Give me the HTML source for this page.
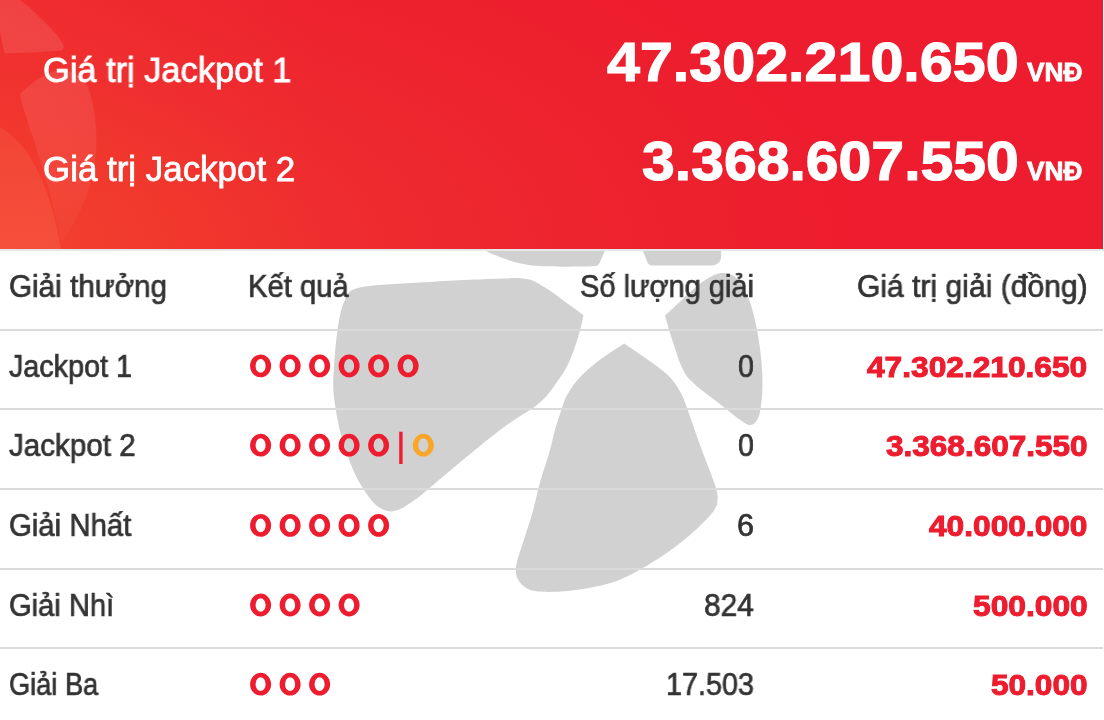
<!DOCTYPE html>
<html lang="vi">
<head>
<meta charset="utf-8">
<title>Vietlott Power 6/55 - Giá trị Jackpot</title>
<style>
html,body{margin:0;padding:0;}
body{width:1104px;height:720px;overflow:hidden;background:#fff;position:relative;font-family:"Liberation Sans",sans-serif;}
#wm{position:absolute;left:0;top:0;width:1104px;height:720px;}
#hdr{position:absolute;left:0;top:0;width:1103px;height:249px;background:#ed1c2e;overflow:hidden;}
#hdr svg{position:absolute;left:0;top:0;}
#hdrline{position:absolute;left:0;top:249px;width:1104px;height:2px;background:#e4e8e8;}
.ln{position:absolute;left:0;width:1103px;height:2px;background:#dbdbdb;}
.t{position:absolute;white-space:nowrap;transform-origin:0 0;will-change:transform;}
#rings{position:absolute;left:0;top:0;width:1104px;height:720px;}
</style>
</head>
<body>
<svg id="wm" viewBox="0 0 1104 720">
<g fill="#d1d1d1">
<path d="M360.0,287.5C372.5,284.6 397.5,283.9 420.0,282.5C442.5,281.1 477.5,279.4 495.0,278.8C512.5,278.2 516.7,277.4 525.0,278.8C533.3,280.2 535.2,281.4 545.0,287.5C554.8,293.6 570.7,306.0 583.5,315.2C582.5,319.8 581.6,324.2 580.4,329.0C579.1,333.8 577.9,338.2 576.0,343.8C574.1,349.4 571.6,356.8 568.8,362.7C566.0,368.6 563.8,372.4 559.0,379.0C554.2,385.6 549.8,394.0 540.0,402.5C530.2,411.0 515.8,417.9 500.0,430.0C484.2,442.1 458.3,464.0 445.0,475.0C431.7,486.0 426.2,491.1 420.0,496.0C413.8,500.9 411.5,502.2 408.0,504.5C404.5,506.8 402.2,508.4 399.0,509.5C395.8,510.6 392.7,511.9 389.0,511.3C385.3,510.7 380.7,508.9 377.0,506.0C373.3,503.1 370.2,498.9 366.7,494.0C363.2,489.1 359.4,483.0 356.2,476.6C353.0,470.2 350.2,463.0 347.6,455.8C345.0,448.6 342.5,440.4 340.6,433.2C338.7,426.0 337.4,418.8 336.3,412.4C335.2,406.0 334.3,401.2 333.8,395.0C333.3,388.8 332.9,385.8 333.5,375.0C334.1,364.2 335.6,342.5 337.5,330.0C339.4,317.5 341.2,307.1 345.0,300.0C348.8,292.9 347.5,290.4 360.0,287.5Z"/>
<path d="M624.2,343.4C630.0,347.4 635.4,351.0 641.7,355.4C648.0,359.8 656.6,365.6 662.0,370.0C667.4,374.4 670.6,377.8 673.8,381.7C677.0,385.6 679.0,389.4 681.0,393.3C683.0,397.2 682.8,396.4 686.0,405.0C689.2,413.6 695.2,431.7 700.0,445.0C704.8,458.3 712.1,475.8 715.0,485.0C717.9,494.2 717.9,495.4 717.5,500.0C717.1,504.6 717.1,506.7 712.5,512.5C707.9,518.3 698.8,527.5 690.0,535.0C681.2,542.5 670.3,550.7 660.0,557.5C649.7,564.3 637.5,571.4 628.0,576.0C618.5,580.6 613.1,582.5 603.0,585.0C592.9,587.5 578.8,590.0 567.5,591.0C556.2,592.0 542.9,592.4 535.0,591.0C527.1,589.6 523.2,586.4 520.0,582.5C516.8,578.6 515.4,574.6 516.0,567.5C516.6,560.4 521.0,549.2 523.8,540.0C526.5,530.8 529.8,522.1 532.5,512.5C535.2,502.9 537.1,492.9 540.0,482.5C542.9,472.1 547.5,458.8 550.0,450.0C552.5,441.2 552.8,437.5 555.0,430.0C557.2,422.5 561.0,410.9 563.0,405.0C565.0,399.1 565.1,398.7 567.3,394.8C569.5,390.9 572.4,386.1 576.0,381.7C579.6,377.3 584.4,372.6 589.0,368.5C593.6,364.4 597.9,361.1 603.8,356.9C609.7,352.7 617.4,347.9 624.2,343.4Z"/>
<path d="M665.0,315.4C670.3,310.6 674.8,306.4 680.8,301.0C686.8,295.6 694.6,287.6 701.0,283.0C707.4,278.4 713.4,274.5 719.0,273.5C724.6,272.5 730.0,273.1 734.8,276.8C739.6,280.6 744.2,288.5 747.6,296.0C751.0,303.5 753.1,312.4 755.3,321.8C757.4,331.2 759.3,342.3 760.5,352.6C761.7,362.9 762.5,374.0 762.5,383.4C762.5,392.8 761.5,402.8 760.5,409.0C759.5,415.2 758.4,418.0 756.6,420.7C754.9,423.4 752.6,425.0 750.0,425.0C747.4,425.0 744.7,422.9 741.0,420.5C737.3,418.1 732.5,414.0 728.0,410.5C723.5,407.0 718.3,402.8 714.0,399.5C709.7,396.2 705.5,393.3 702.0,390.5C698.5,387.7 695.7,385.1 693.0,382.5C690.3,379.9 688.2,378.2 686.0,375.0C683.8,371.8 681.8,367.2 680.0,363.0C678.2,358.8 677.2,355.0 675.5,350.0C673.8,345.0 671.8,338.8 670.0,333.0C668.2,327.2 666.7,321.3 665.0,315.4Z"/>
<path d="M470,235L485,250.5C500,258 515,263 532,265.5C545,267 580,266.8 594,266.3C597,266.2 598.6,265 599.6,263L606,248L610,235Z"/>
<path d="M638,235L642.5,250L647.3,262C648.3,264.5 650,265.6 653,265.6L710,265.6C717,265.6 721.2,262 721.2,256L721.2,235Z"/>
</g>
</svg>
<div id="hdr">
<svg width="1103" height="249" viewBox="0 0 1103 249">
<defs>
<radialGradient id="gbg" gradientUnits="userSpaceOnUse" cx="0" cy="249" r="1" gradientTransform="translate(0 249) scale(980 430) translate(0 -249)">
<stop offset="0" stop-color="#f13c2e"/><stop offset="0.2" stop-color="#f0342d"/><stop offset="0.4" stop-color="#ee2a2f"/><stop offset="0.65" stop-color="#ed222e"/><stop offset="0.9" stop-color="#ed1c2e"/><stop offset="1" stop-color="#ed1c2e"/>
</radialGradient>
<linearGradient id="gw" gradientUnits="userSpaceOnUse" x1="0" y1="0" x2="320" y2="0"><stop offset="0" stop-color="#ff6a30" stop-opacity="0.13"/><stop offset="1" stop-color="#ff6a30" stop-opacity="0"/></linearGradient>
<linearGradient id="g2" gradientUnits="userSpaceOnUse" x1="0" y1="70" x2="0" y2="249"><stop offset="0" stop-color="#fff" stop-opacity="0.10"/><stop offset="0.45" stop-color="#fff" stop-opacity="0.07"/><stop offset="1" stop-color="#fff" stop-opacity="0.02"/></linearGradient>
<linearGradient id="g3" gradientUnits="userSpaceOnUse" x1="0" y1="127" x2="0" y2="249"><stop offset="0" stop-color="#f2483a"/><stop offset="1" stop-color="#f5553f"/></linearGradient>
</defs>
<rect width="1103" height="249" fill="url(#gbg)"/>
<rect width="320" height="249" fill="url(#gw)"/>
<path d="M0,0L20,0C30,7 45,22 56,34C60,39 63,43 64,47L62,50.5C45,52 20,53 4.5,53.5L0,32Z" fill="#fff" fill-opacity="0.10"/>
<path d="M20,94C30,84 42,75 55,71C68,69 80,74 86,83C92,95 96,115 96.5,138C96.5,170 88,200 72,226C67,235 62,243 58,250L62,250C58,225 50,190 40,160C34,140 26,117 22,104Z" fill="url(#g2)"/>
<path d="M0,127C8,132 16,139 22,146C32,158 40,175 46,190C53,210 58,232 61,250L0,250Z" fill="url(#g3)" fill-opacity="0.75"/>
</svg>
</div>
<div id="hdrline"></div>
<div class="ln" style="top:329px"></div><div class="ln" style="top:408px"></div><div class="ln" style="top:488px"></div><div class="ln" style="top:568px"></div><div class="ln" style="top:647px"></div>
<svg id="rings" viewBox="0 0 1104 720">
<path fill="#ed1c2e" fill-rule="evenodd" d="M250.10,365.90a10.5,11.4 0 1,0 21,0a10.5,11.4 0 1,0 -21,0ZM255.55,365.90a5.05,6.85 0 1,1 10.1,0a5.05,6.85 0 1,1 -10.1,0Z"/>
<path fill="#ed1c2e" fill-rule="evenodd" d="M279.60,365.90a10.5,11.4 0 1,0 21,0a10.5,11.4 0 1,0 -21,0ZM285.05,365.90a5.05,6.85 0 1,1 10.1,0a5.05,6.85 0 1,1 -10.1,0Z"/>
<path fill="#ed1c2e" fill-rule="evenodd" d="M309.10,365.90a10.5,11.4 0 1,0 21,0a10.5,11.4 0 1,0 -21,0ZM314.55,365.90a5.05,6.85 0 1,1 10.1,0a5.05,6.85 0 1,1 -10.1,0Z"/>
<path fill="#ed1c2e" fill-rule="evenodd" d="M338.60,365.90a10.5,11.4 0 1,0 21,0a10.5,11.4 0 1,0 -21,0ZM344.05,365.90a5.05,6.85 0 1,1 10.1,0a5.05,6.85 0 1,1 -10.1,0Z"/>
<path fill="#ed1c2e" fill-rule="evenodd" d="M368.10,365.90a10.5,11.4 0 1,0 21,0a10.5,11.4 0 1,0 -21,0ZM373.55,365.90a5.05,6.85 0 1,1 10.1,0a5.05,6.85 0 1,1 -10.1,0Z"/>
<path fill="#ed1c2e" fill-rule="evenodd" d="M397.60,365.90a10.5,11.4 0 1,0 21,0a10.5,11.4 0 1,0 -21,0ZM403.05,365.90a5.05,6.85 0 1,1 10.1,0a5.05,6.85 0 1,1 -10.1,0Z"/>
<path fill="#ed1c2e" fill-rule="evenodd" d="M250.10,445.20a10.5,11.4 0 1,0 21,0a10.5,11.4 0 1,0 -21,0ZM255.55,445.20a5.05,6.85 0 1,1 10.1,0a5.05,6.85 0 1,1 -10.1,0Z"/>
<path fill="#ed1c2e" fill-rule="evenodd" d="M279.60,445.20a10.5,11.4 0 1,0 21,0a10.5,11.4 0 1,0 -21,0ZM285.05,445.20a5.05,6.85 0 1,1 10.1,0a5.05,6.85 0 1,1 -10.1,0Z"/>
<path fill="#ed1c2e" fill-rule="evenodd" d="M309.10,445.20a10.5,11.4 0 1,0 21,0a10.5,11.4 0 1,0 -21,0ZM314.55,445.20a5.05,6.85 0 1,1 10.1,0a5.05,6.85 0 1,1 -10.1,0Z"/>
<path fill="#ed1c2e" fill-rule="evenodd" d="M338.60,445.20a10.5,11.4 0 1,0 21,0a10.5,11.4 0 1,0 -21,0ZM344.05,445.20a5.05,6.85 0 1,1 10.1,0a5.05,6.85 0 1,1 -10.1,0Z"/>
<path fill="#ed1c2e" fill-rule="evenodd" d="M368.10,445.20a10.5,11.4 0 1,0 21,0a10.5,11.4 0 1,0 -21,0ZM373.55,445.20a5.05,6.85 0 1,1 10.1,0a5.05,6.85 0 1,1 -10.1,0Z"/>
<path fill="#ed1c2e" fill-rule="evenodd" d="M250.10,525.40a10.5,11.4 0 1,0 21,0a10.5,11.4 0 1,0 -21,0ZM255.55,525.40a5.05,6.85 0 1,1 10.1,0a5.05,6.85 0 1,1 -10.1,0Z"/>
<path fill="#ed1c2e" fill-rule="evenodd" d="M279.60,525.40a10.5,11.4 0 1,0 21,0a10.5,11.4 0 1,0 -21,0ZM285.05,525.40a5.05,6.85 0 1,1 10.1,0a5.05,6.85 0 1,1 -10.1,0Z"/>
<path fill="#ed1c2e" fill-rule="evenodd" d="M309.10,525.40a10.5,11.4 0 1,0 21,0a10.5,11.4 0 1,0 -21,0ZM314.55,525.40a5.05,6.85 0 1,1 10.1,0a5.05,6.85 0 1,1 -10.1,0Z"/>
<path fill="#ed1c2e" fill-rule="evenodd" d="M338.60,525.40a10.5,11.4 0 1,0 21,0a10.5,11.4 0 1,0 -21,0ZM344.05,525.40a5.05,6.85 0 1,1 10.1,0a5.05,6.85 0 1,1 -10.1,0Z"/>
<path fill="#ed1c2e" fill-rule="evenodd" d="M368.10,525.40a10.5,11.4 0 1,0 21,0a10.5,11.4 0 1,0 -21,0ZM373.55,525.40a5.05,6.85 0 1,1 10.1,0a5.05,6.85 0 1,1 -10.1,0Z"/>
<path fill="#ed1c2e" fill-rule="evenodd" d="M250.10,605.00a10.5,11.4 0 1,0 21,0a10.5,11.4 0 1,0 -21,0ZM255.55,605.00a5.05,6.85 0 1,1 10.1,0a5.05,6.85 0 1,1 -10.1,0Z"/>
<path fill="#ed1c2e" fill-rule="evenodd" d="M279.60,605.00a10.5,11.4 0 1,0 21,0a10.5,11.4 0 1,0 -21,0ZM285.05,605.00a5.05,6.85 0 1,1 10.1,0a5.05,6.85 0 1,1 -10.1,0Z"/>
<path fill="#ed1c2e" fill-rule="evenodd" d="M309.10,605.00a10.5,11.4 0 1,0 21,0a10.5,11.4 0 1,0 -21,0ZM314.55,605.00a5.05,6.85 0 1,1 10.1,0a5.05,6.85 0 1,1 -10.1,0Z"/>
<path fill="#ed1c2e" fill-rule="evenodd" d="M338.60,605.00a10.5,11.4 0 1,0 21,0a10.5,11.4 0 1,0 -21,0ZM344.05,605.00a5.05,6.85 0 1,1 10.1,0a5.05,6.85 0 1,1 -10.1,0Z"/>
<path fill="#ed1c2e" fill-rule="evenodd" d="M250.10,684.20a10.5,11.4 0 1,0 21,0a10.5,11.4 0 1,0 -21,0ZM255.55,684.20a5.05,6.85 0 1,1 10.1,0a5.05,6.85 0 1,1 -10.1,0Z"/>
<path fill="#ed1c2e" fill-rule="evenodd" d="M279.60,684.20a10.5,11.4 0 1,0 21,0a10.5,11.4 0 1,0 -21,0ZM285.05,684.20a5.05,6.85 0 1,1 10.1,0a5.05,6.85 0 1,1 -10.1,0Z"/>
<path fill="#ed1c2e" fill-rule="evenodd" d="M309.10,684.20a10.5,11.4 0 1,0 21,0a10.5,11.4 0 1,0 -21,0ZM314.55,684.20a5.05,6.85 0 1,1 10.1,0a5.05,6.85 0 1,1 -10.1,0Z"/>
<rect x="399.2" y="431.7" width="3.4" height="32.3" fill="#ed1c2e"/>
<path fill="#faa628" fill-rule="evenodd" d="M412.80,445.20a10.5,11.4 0 1,0 21,0a10.5,11.4 0 1,0 -21,0ZM418.25,445.20a5.05,6.85 0 1,1 10.1,0a5.05,6.85 0 1,1 -10.1,0Z"/>
</svg>
<div class="t" id="t0" style="left:42.58px;top:51px;font-size:34.6px;line-height:38px;font-weight:400;color:#fff;-webkit-text-stroke:0.8px #fff;transform:scaleX(0.9944)">Giá trị Jackpot 1</div>
<div class="t" id="t1" style="left:42.56px;top:150px;font-size:34.6px;line-height:38px;font-weight:400;color:#fff;-webkit-text-stroke:0.8px #fff;transform:scaleX(1.0095)">Giá trị Jackpot 2</div>
<div class="t" id="t2" style="left:606.95px;top:31px;font-size:55.8px;line-height:62px;font-weight:700;color:#fff;-webkit-text-stroke:1.2px #fff;transform:scaleX(1.0612)">47.302.210.650</div>
<div class="t" id="t3" style="left:641.96px;top:130px;font-size:55.8px;line-height:62px;font-weight:700;color:#fff;-webkit-text-stroke:1.2px #fff;transform:scaleX(1.0560)">3.368.607.550</div>
<div class="t" id="t4" style="left:1026.94px;top:57px;font-size:26.0px;line-height:30px;font-weight:700;color:#fff;-webkit-text-stroke:0.9px #fff;transform:scaleX(1.0099)">VNĐ</div>
<div class="t" id="t5" style="left:1026.94px;top:156px;font-size:26.0px;line-height:30px;font-weight:700;color:#fff;-webkit-text-stroke:0.9px #fff;transform:scaleX(1.0099)">VNĐ</div>
<div class="t" id="t6" style="left:8.66px;top:269px;font-size:30.6px;line-height:34px;font-weight:400;color:#333333;-webkit-text-stroke:0.7px #333333;transform:scaleX(0.9692)">Giải thưởng</div>
<div class="t" id="t7" style="left:248.40px;top:269px;font-size:30.6px;line-height:34px;font-weight:400;color:#333333;-webkit-text-stroke:0.7px #333333;transform:scaleX(0.9536)">Kết quả</div>
<div class="t" id="t8" style="left:580.38px;top:269px;font-size:30.6px;line-height:34px;font-weight:400;color:#333333;-webkit-text-stroke:0.7px #333333;transform:scaleX(0.9489)">Số lượng giải</div>
<div class="t" id="t9" style="left:856.84px;top:269px;font-size:30.6px;line-height:34px;font-weight:400;color:#333333;-webkit-text-stroke:0.7px #333333;transform:scaleX(0.9826)">Giá trị giải (đồng)</div>
<div class="t" id="t10" style="left:8.75px;top:349px;font-size:30.6px;line-height:34px;font-weight:400;color:#333333;-webkit-text-stroke:0.7px #333333;transform:scaleX(0.9388)">Jackpot 1</div>
<div class="t" id="t11" style="left:8.75px;top:428px;font-size:30.6px;line-height:34px;font-weight:400;color:#333333;-webkit-text-stroke:0.7px #333333;transform:scaleX(0.9666)">Jackpot 2</div>
<div class="t" id="t12" style="left:8.77px;top:508px;font-size:30.6px;line-height:34px;font-weight:400;color:#333333;-webkit-text-stroke:0.7px #333333;transform:scaleX(0.9592)">Giải Nhất</div>
<div class="t" id="t13" style="left:8.68px;top:588px;font-size:30.6px;line-height:34px;font-weight:400;color:#333333;-webkit-text-stroke:0.7px #333333;transform:scaleX(0.9518)">Giải Nhì</div>
<div class="t" id="t14" style="left:8.75px;top:667px;font-size:30.6px;line-height:34px;font-weight:400;color:#333333;-webkit-text-stroke:0.7px #333333;transform:scaleX(0.8891)">Giải Ba</div>
<div class="t" id="t15" style="left:737.58px;top:349px;font-size:30.6px;line-height:34px;font-weight:400;color:#333333;-webkit-text-stroke:0.7px #333333;transform:scaleX(0.9358)">0</div>
<div class="t" id="t16" style="left:737.58px;top:428px;font-size:30.6px;line-height:34px;font-weight:400;color:#333333;-webkit-text-stroke:0.7px #333333;transform:scaleX(0.9358)">0</div>
<div class="t" id="t17" style="left:737.25px;top:508px;font-size:30.6px;line-height:34px;font-weight:400;color:#333333;-webkit-text-stroke:0.7px #333333;transform:scaleX(0.9746)">6</div>
<div class="t" id="t18" style="left:703.65px;top:588px;font-size:30.6px;line-height:34px;font-weight:400;color:#333333;-webkit-text-stroke:0.7px #333333;transform:scaleX(0.9766)">824</div>
<div class="t" id="t19" style="left:666.03px;top:667px;font-size:30.6px;line-height:34px;font-weight:400;color:#333333;-webkit-text-stroke:0.7px #333333;transform:scaleX(0.9407)">17.503</div>
<div class="t" id="t20" style="left:866.92px;top:351px;font-size:28.7px;line-height:32px;font-weight:700;color:#ed1c2e;-webkit-text-stroke:1.0px #ed1c2e;transform:scaleX(1.1044)">47.302.210.650</div>
<div class="t" id="t21" style="left:885.62px;top:430px;font-size:28.7px;line-height:32px;font-weight:700;color:#ed1c2e;-webkit-text-stroke:1.0px #ed1c2e;transform:scaleX(1.0992)">3.368.607.550</div>
<div class="t" id="t22" style="left:928.82px;top:510px;font-size:28.7px;line-height:32px;font-weight:700;color:#ed1c2e;-webkit-text-stroke:1.0px #ed1c2e;transform:scaleX(1.1038)">40.000.000</div>
<div class="t" id="t23" style="left:972.60px;top:590px;font-size:28.7px;line-height:32px;font-weight:700;color:#ed1c2e;-webkit-text-stroke:1.0px #ed1c2e;transform:scaleX(1.1063)">500.000</div>
<div class="t" id="t24" style="left:990.60px;top:669px;font-size:28.7px;line-height:32px;font-weight:700;color:#ed1c2e;-webkit-text-stroke:1.0px #ed1c2e;transform:scaleX(1.1001)">50.000</div>
</body>
</html>
